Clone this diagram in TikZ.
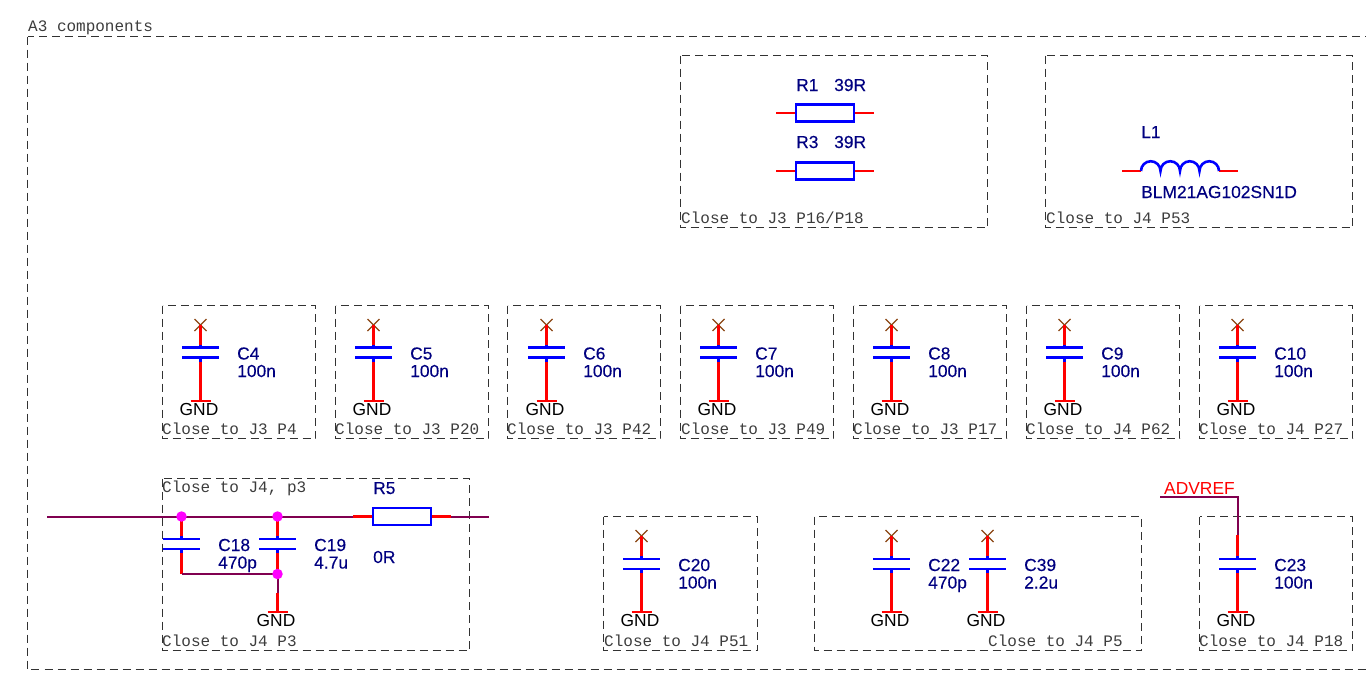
\documentclass[tikz,border=0pt]{standalone}
\usepackage{fontspec}
\setmainfont{Liberation Sans}
\newfontfamily\notefont{Liberation Mono}
\newfontfamily\partfont[BoldFont=Liberation Sans,BoldFeatures={FakeBold=0.25}]{Liberation Sans}
\definecolor{labelblue}{RGB}{0,0,128}
\definecolor{netpurple}{RGB}{128,0,80}
\definecolor{pinred}{RGB}{255,0,0}
\definecolor{bodyblue}{RGB}{0,0,255}
\definecolor{noconn}{RGB}{139,69,19}
\definecolor{dashgrey}{RGB}{50,50,50}
\definecolor{notegrey}{RGB}{60,60,60}
\definecolor{dotpink}{RGB}{255,0,255}
\tikzset{
  x=1pt,y=-1pt,
  partlabel/.style={anchor=base west,inner sep=0pt,text=labelblue,font=\partfont\bfseries\fontsize{17.4}{17.4}\selectfont},
  gndlabel/.style={anchor=base,inner sep=0pt,text=black,font=\fontsize{17.4}{17.4}\selectfont},
  netlabel/.style={anchor=base west,inner sep=0pt,text=pinred,font=\fontsize{17.4}{17.4}\selectfont},
  notelabel/.style={anchor=base west,inner sep=0pt,text=notegrey,font=\notefont\fontsize{16}{16}\selectfont},
  groupbox/.style={draw=dashgrey,line width=1pt,dash pattern=on 8pt off 5pt},
  pin/.style={draw=pinred,line width=2.1pt},
  net/.style={draw=netpurple,line width=2pt},
  body/.style={draw=bodyblue,line width=2.6pt},
  ncmark/.style={draw=noconn,line width=1.1pt},
  junction/.style={circle,fill=dotpink,draw=none,inner sep=0pt,minimum size=10.5pt},
}
% name, x, y of upper plate
\newcommand{\capsym}[3]{%
  \coordinate (#1p) at (#2,#3);
  \coordinate (#1q) at (#2,#3+10);
  \draw[body] (#2-18.3,#3) -- (#2+18.3,#3);
  \draw[body] (#2-18.3,#3+10) -- (#2+18.3,#3+10);
}
% name, x, y of X mark
\newcommand{\ncsym}[3]{%
  \coordinate (#1x) at (#2,#3);
  \draw[ncmark] (#2-6,#3-6) -- (#2+6,#3+6);
  \draw[ncmark] (#2-6,#3+6) -- (#2+6,#3-6);
}
% name, x, y of GND bar
\newcommand{\gndsym}[3]{%
  \coordinate (#1g) at (#2,#3);
  \draw[pin] (#2-10,#3) -- (#2+10,#3);
  \node[gndlabel] (#1gt) at (#2-1.5,#3+14) {GND};
}
% name, plate y, label x, two label lines
\newcommand{\caplabel}[5]{%
  \node[partlabel] (#1n) at (#3,#2+12) {#4};
  \node[partlabel] (#1v) at (#3,#2+29.5) {#5};
}
% blue stubs over the pins, next to the plates
\newcommand{\capstubs}[1]{%
  \draw[body] (#1p) -- ++(0,-3);
  \draw[body] (#1q) -- ++(0,4);
}
% complete capacitor with X and GND: name,x,Xy,platey,gndy,ref,value
\newcommand{\ncap}[7]{%
  \capsym{#1}{#2}{#4}
  \ncsym{#1}{#2}{#3}
  \gndsym{#1}{#2}{#5}
  \draw[pin] (#1x) -- (#1p);
  \draw[pin] (#1q) -- (#1g);
  \capstubs{#1}
  \caplabel{#1}{#4}{#2+36.5}{#6}{#7}
}
% name, left x, wire y
\newcommand{\ressym}[3]{%
  \node[draw=bodyblue,line width=2.4pt,fill=white,rectangle,minimum width=58pt,minimum height=17pt,inner sep=0pt] (#1) at (#2+29,#3) {};
}
\begin{document}
\begin{tikzpicture}
\useasboundingbox (0,0) rectangle (1366,675);
\clip (0,0) rectangle (1366,675);

% outer frame
\draw[groupbox] (27.5,36.5) rectangle (1380,669.5);
\node[notelabel] (outer) at (28,31) {A3 components};

% group boxes
\draw[groupbox] (680.5,55.5) rectangle (987.5,227.5);
\draw[groupbox] (1045.5,55.5) rectangle (1352.5,227.5);
\foreach \bx in {162.5,335.5,507.5,680.5,853.5,1026.5,1199.5}
  \draw[groupbox] (\bx,305.5) rectangle (\bx+153,438.5);
\draw[groupbox] (162.5,478.5) rectangle (469.5,650.5);
\draw[groupbox] (603.5,516.5) rectangle (757.5,650.5);
\draw[groupbox] (814.5,516.5) rectangle (1141.5,650.5);
\draw[groupbox] (1199.5,516.5) rectangle (1352.5,650.5);

\node[notelabel] (t1) at (681,223) {Close to J3 P16/P18};
\node[notelabel] (t2) at (1046,223) {Close to J4 P53};
\node[notelabel] (t3) at (162,434) {Close to J3 P4};
\node[notelabel] (t4) at (335,434) {Close to J3 P20};
\node[notelabel] (t5) at (507,434) {Close to J3 P42};
\node[notelabel] (t6) at (681,434) {Close to J3 P49};
\node[notelabel] (t7) at (853,434) {Close to J3 P17};
\node[notelabel] (t8) at (1026,434) {Close to J4 P62};
\node[notelabel] (t9) at (1199,434) {Close to J4 P27};
\node[notelabel] (t10) at (162,492) {Close to J4, p3};
\node[notelabel] (t11) at (162,646) {Close to J4 P3};
\node[notelabel] (t12) at (604,646) {Close to J4 P51};
\node[notelabel] (t13) at (988,646) {Close to J4 P5};
\node[notelabel] (t14) at (1199,646) {Close to J4 P18};

% R1, R3
\ressym{rone}{796}{113}
\coordinate (rone1) at (776,113); \coordinate (rone2) at (873.5,113);
\draw[pin] (rone1) -- (rone.west); \draw[pin] (rone.east) -- (rone2);
\node[partlabel] (ronen) at (796,91) {R1};
\node[partlabel] (ronev) at (834,91) {39R};
\ressym{rthree}{796}{171}
\coordinate (rthree1) at (776,171); \coordinate (rthree2) at (873.5,171);
\draw[pin] (rthree1) -- (rthree.west); \draw[pin] (rthree.east) -- (rthree2);
\node[partlabel] (rthreen) at (796,148) {R3};
\node[partlabel] (rthreev) at (834,148) {39R};

% L1
\coordinate (la) at (1122,171); \coordinate (lb) at (1141,171);
\coordinate (lc) at (1219,171); \coordinate (ld) at (1238,171);
\draw[pin] (la) -- (lb); \draw[pin] (lc) -- (ld);
\draw[body] (lb) arc[start angle=180,end angle=360,radius=9.75]
  arc[start angle=180,end angle=360,radius=9.75]
  arc[start angle=180,end angle=360,radius=9.75]
  arc[start angle=180,end angle=360,radius=9.75];
\node[partlabel] (ln) at (1141,138) {L1};
\node[partlabel] (lv) at (1141,198) {BLM21AG102SN1D};

% top row capacitors
\ncap{cfour}{200.5}{325}{347.5}{401}{C4}{100n}
\ncap{cfive}{373.5}{325}{347.5}{401}{C5}{100n}
\ncap{csix}{546.5}{325}{347.5}{401}{C6}{100n}
\ncap{cseven}{718.5}{325}{347.5}{401}{C7}{100n}
\ncap{ceight}{891.5}{325}{347.5}{401}{C8}{100n}
\ncap{cnine}{1064.5}{325}{347.5}{401}{C9}{100n}
\ncap{cten}{1237.5}{325}{347.5}{401}{C10}{100n}

% bottom capacitors
\ncap{ctwenty}{641.5}{536}{559}{612}{C20}{100n}
\ncap{ctwotwo}{891.5}{536}{559}{612}{C22}{470p}
\ncap{cthreenine}{987.5}{536}{559}{612}{C39}{2.2u}

% C23 with ADVREF
\capsym{ctwothree}{1237.5}{559}
\gndsym{ctwothree}{1237.5}{612}
\caplabel{ctwothree}{559}{1274}{C23}{100n}
\node[netlabel] (advref) at (1164,494) {ADVREF};
\coordinate (adva) at (1160,497); \coordinate (advb) at (1237.5,497); \coordinate (advc) at (1237.5,535);
\draw[net] (adva) -- (advb) -- (advc);
\draw[pin] (advc) -- (ctwothreep);
\draw[pin] (ctwothreeq) -- (ctwothreeg);
\capstubs{ctwothree}

% C18, C19, R5 group
\coordinate (in) at (47,516.5);
\ressym{rfive}{373}{516.5}
\coordinate (rfa) at (353,516.5); \coordinate (rfb) at (451,516.5); \coordinate (out) at (489,516.5);
\coordinate (jonec) at (181.5,516.5);
\coordinate (jtwoc) at (277.5,516.5);
\coordinate (jthreec) at (277.5,574);
\coordinate (cornerb) at (181.5,574); \coordinate (gndmid) at (277.5,593);
\capsym{ceighteen}{181.5}{539}
\capsym{cnineteen}{277.5}{539}
\gndsym{cnineteen}{277.5}{612}
\draw[net] (in) -- (jonec) -- (jtwoc) -- (rfa);
\draw[net] (rfb) -- (out);
\draw[pin] (rfa) -- (rfive.west);
\draw[pin] (rfive.east) -- (rfb);
\draw[pin] (jonec) -- (ceighteenp);
\draw[pin] (jtwoc) -- (cnineteenp);
\draw[pin] (ceighteenq) -- (cornerb);
\draw[net] (cornerb) -- (jthreec);
\draw[pin] (cnineteenq) -- (jthreec);
\draw[net] (jthreec) -- (gndmid);
\draw[pin] (gndmid) -- (cnineteeng);
\capstubs{ceighteen}
\capstubs{cnineteen}
\node[junction] (jone) at (jonec) {};
\node[junction] (jtwo) at (jtwoc) {};
\node[junction] (jthree) at (jthreec) {};
\caplabel{ceighteen}{539}{218}{C18}{470p}
\caplabel{cnineteen}{539}{314}{C19}{4.7u}
\node[partlabel] (rfn) at (373,494) {R5};
\node[partlabel] (rfv) at (373,563) {0R};
\end{tikzpicture}
\end{document}
